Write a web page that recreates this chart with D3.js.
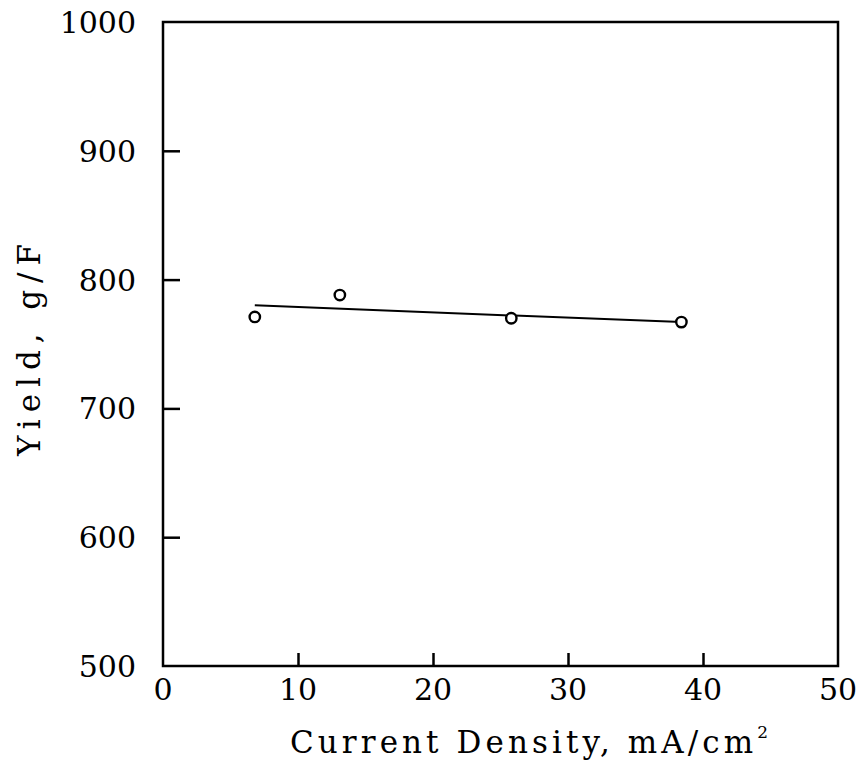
<!DOCTYPE html>
<html><head><meta charset="utf-8">
<script src="https://cdnjs.cloudflare.com/ajax/libs/d3/7.8.5/d3.min.js"></script>
<style>body{margin:0;background:#fff}svg{display:block}</style>
</head><body>
<script>
const xTicks = [0, 10, 20, 30, 40, 50];
const yTicks = [500, 600, 700, 800, 900, 1000];
const pointsX = [6.8, 13.1, 25.8, 38.4];
const pointsY = [771, 788, 770, 767];
const fitX = [6.8, 38.4];
const fitY = [780, 767];

(function () {
const W = 860, H = 767;
const svg = d3.select("body").append("svg").attr("width", W).attr("height", H);
const pL = 163, pR = 838, pT = 22, pB = 666;
const x = d3.scaleLinear().domain([0, 50]).range([pL, pR]);
const y = d3.scaleLinear().domain([500, 1000]).range([pB, pT]);
const font = "'DejaVu Serif', serif";

svg.append("rect").attr("x", pL).attr("y", pT).attr("width", pR - pL).attr("height", pB - pT)
  .attr("fill", "none").attr("stroke", "#000").attr("stroke-width", 2.5);

const xAxis = d3.axisBottom(x).tickValues(xTicks.slice(1, -1)).tickSize(-13).tickFormat("");
svg.append("g").attr("transform", `translate(0,${pB})`).call(xAxis)
  .call(g => { g.select(".domain").remove(); g.selectAll("line").attr("stroke-width", 2.5); });
const yAxis = d3.axisLeft(y).tickValues(yTicks.slice(1, -1)).tickSize(-17).tickFormat("");
svg.append("g").attr("transform", `translate(${pL},0)`).call(yAxis)
  .call(g => { g.select(".domain").remove(); g.selectAll("line").attr("stroke-width", 2.5); });

svg.selectAll(".xl").data(xTicks).enter().append("text")
  .attr("x", d => x(d)).attr("y", (d) => pB + 34).attr("text-anchor", "middle")
  .attr("font-family", font).attr("font-size", 30).text(d => d);
svg.selectAll(".yl").data(yTicks).enter().append("text")
  .attr("x", 136).attr("y", d => y(d) + 11).attr("text-anchor", "end")
  .attr("font-family", font).attr("font-size", 30).text(d => d);

const xt = svg.append("text").attr("x", 290).attr("y", 753)
  .attr("font-family", font).attr("font-size", 31)
  .attr("textLength", 478).attr("lengthAdjust", "spacing");
xt.append("tspan").text("Current Density, mA/cm");
xt.append("tspan").attr("dy", -15).attr("font-size", 17).text("2");

svg.append("text").attr("transform", "translate(40,350) rotate(-90)")
  .attr("text-anchor", "middle").attr("font-family", font).attr("font-size", 31)
  .attr("textLength", 212).attr("lengthAdjust", "spacing").text("Yield, g/F");

const line = d3.line().x((d, i) => x(fitX[i])).y(d => y(d));
svg.append("path").datum(fitY).attr("d", line).attr("fill", "none")
  .attr("stroke", "#000").attr("stroke-width", 2);

svg.selectAll(".pt").data(pointsX).enter().append("circle")
  .attr("cx", d => x(d)).attr("cy", (d, i) => y(pointsY[i])).attr("r", 5.2)
  .attr("fill", "#fff").attr("stroke", "#000").attr("stroke-width", 2.4);
})();
</script>
</body></html>
